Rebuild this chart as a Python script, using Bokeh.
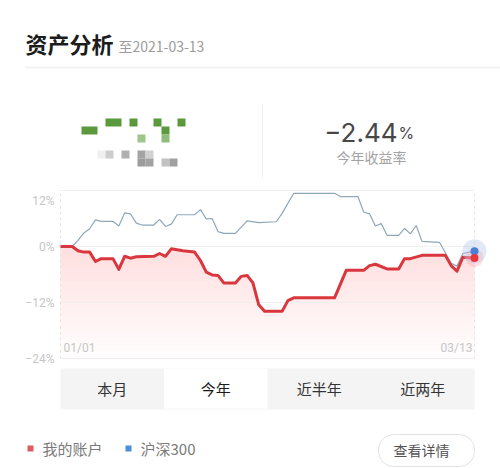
import numpy as np
from bokeh.plotting import figure
from bokeh.layouts import column
from bokeh.models import Range1d
from bokeh.core.properties import value
from bokeh.embed import file_html
from bokeh.resources import INLINE

# ---------------- data ----------------
title_text = "资产分析"
as_of_text = "至2021-03-13"
return_pct = -2.44
return_label = "今年收益率"

# day offsets from 2021-01-01 and cumulative return (%)
acct_days = [0, 2, 3, 4, 5, 6, 7, 9, 10, 11, 12, 13, 16, 17, 18, 19, 21, 23, 24, 25, 26, 27,
             28, 30, 31, 32, 33, 34, 35, 38, 39, 40, 47, 49, 52, 53, 54, 56, 58, 59, 60, 62,
             66, 67, 68, 69, 71]
acct_vals = [0, 0, -0.9, -1.2, -1.2, -3.2, -2.6, -2.6, -4.9, -2.1, -2.5, -2.2, -2.1, -1.5, -2.1,
             -0.5, -0.9, -1.2, -3.0, -5.5, -6.1, -6.2, -7.8, -7.8, -6.4, -6.2, -7.8, -12.5, -13.9,
             -13.9, -11.6, -11.0, -11.0, -5.1, -5.1, -4.1, -3.8, -4.8, -4.8, -2.6, -2.6, -1.9,
             -1.9, -4.1, -5.3, -2.3, -2.44]

hs_days = [0, 2, 3, 4, 5, 6, 7, 9, 10, 11, 12, 13, 14, 16, 17, 18, 19, 20, 23, 24, 25, 26, 27,
           28, 30, 32, 34, 37, 38, 40, 47, 48, 51, 52, 53, 54, 55, 56, 58, 59, 60, 61, 62, 65,
           67, 68, 69, 71]
hs_vals = [0, 0, 1.3, 2.9, 3.8, 5.7, 5.4, 5.4, 4.4, 7.2, 7.0, 5.0, 4.6, 4.6, 5.8, 4.3, 4.8, 6.8,
           6.8, 7.9, 5.9, 6.0, 3.2, 2.8, 2.8, 5.5, 5.1, 5.3, 7.1, 11.4, 11.4, 10.7, 10.7, 7.4, 7.0,
           4.4, 4.9, 2.4, 2.4, 3.9, 2.7, 4.5, 1.1, 0.9, -3.6, -4.2, -1.5, -1.0]

y_ticks = [-24, -12, 0, 12]
y_tick_labels = ["−24%", "−12%", "0%", "12%"]
x_tick_labels = ["01/01", "03/13"]
tab_labels = ["本月", "今年", "近半年", "近两年"]
selected_tab = 1
legend_labels = ["我的账户", "沪深300"]
button_text = "查看详情"

# privacy mosaic cells (x, y, w, colour)
mosaic_x = [81, 105, 129, 153, 177, 161, 161, 137, 97, 105, 121, 137, 145, 137, 145, 161, 169]
mosaic_y = [126, 118, 118, 118, 118, 126, 134, 134, 150, 150, 150, 150, 150, 158, 158, 158, 158]
mosaic_w = [16, 16, 8, 8, 8, 8, 8, 8, 8, 8, 8, 8, 8, 8, 8, 8, 8]
mosaic_c = ["#5b9a3c", "#5b9a3c", "#5b9a3c", "#5b9a3c", "#5b9a3c", "#5b9a3c", "#8dbd78",
            "#9cc68a", "#f0f0f0", "#cdcdcd", "#b0b0b0", "#a3a3a3", "#d0d0d0", "#9c9c9c",
            "#a2a2a2", "#c2c2c2", "#a0a0a0"]

CJK = value("Noto Sans CJK SC")
RED = "#d9373d"
BLUE_LINE = "#8fa8b9"
BLUE_DOT = "#4a80d6"
W = 500


def blank(h, x_rng, y_rng):
    f = figure(width=W, height=h, x_range=x_rng, y_range=y_rng, output_backend="svg",
               toolbar_location=None, min_border=0, min_border_left=0, min_border_right=0,
               min_border_top=0, min_border_bottom=0, outline_line_color=None,
               x_axis_location=None, y_axis_location=None)
    f.grid.visible = False
    return f


# ---------------- header ----------------
pa = blank(180, Range1d(0, 500), Range1d(180, 0))
pa.text(x=[25], y=[42], text=[title_text], text_font=CJK, text_font_size="22px",
        text_font_style="bold", text_color="#1c1c1c", text_baseline="middle")
pa.text(x=[118], y=[45], text=[as_of_text], text_font=CJK, text_font_size="14px",
        text_color="#9c9c9c", text_baseline="middle")
pa.segment(x0=[25], y0=[67], x1=[500], y1=[67], line_color="#f0f0f0", line_width=1.5)
pa.quad(left=mosaic_x, right=[a + b for a, b in zip(mosaic_x, mosaic_w)], top=mosaic_y,
        bottom=[v + 8 for v in mosaic_y], fill_color=mosaic_c, line_color=None)
pa.segment(x0=[262], y0=[103], x1=[262], y1=[178], line_color="#efefef", line_width=1)
ret_txt = f"{return_pct:.2f}".replace("-", "−")
pa.text(x=[397], y=[132], text=[ret_txt], text_font=value("Inter"), text_font_size="26px",
        text_color="#474747", text_align="right", text_baseline="alphabetic")
pa.text(x=[398], y=[132], text=["%"], text_font=value("Inter"), text_font_size="16px",
        text_color="#474747", text_align="left", text_baseline="alphabetic")
pa.text(x=[371], y=[156.5], text=[return_label], text_font=CJK, text_font_size="14px",
        text_color="#a3a3a3", text_align="center", text_baseline="middle")

# ---------------- chart ----------------
# chart area: screen x 60..474, y 190..358 inside a 500x188 panel (top at 180)
ppd = (474 - 60) / (acct_days[-1] - acct_days[0])        # px per day
ppp = (358 - 190) / (y_ticks[-1] - y_ticks[0])           # px per percent
xr = Range1d(acct_days[0] - 60 / ppd, acct_days[-1] + (500 - 474) / ppd)
yr = Range1d(y_ticks[0] - 10 / ppp, y_ticks[-1] + 10 / ppp)
pb = blank(188, xr, yr)

# gradient-like fill under the account line
ad = np.array(acct_days, dtype=float)
av = np.array(acct_vals, dtype=float)
for lvl in np.arange(y_ticks[0], y_ticks[-1], 1.5):
    pb.varea(x=ad, y1=np.minimum(av, lvl), y2=av, fill_color="#e6323a", fill_alpha=0.011)

# horizontal grid lines and dashed boundaries
pb.segment(x0=[acct_days[0]] * len(y_ticks), x1=[acct_days[-1]] * len(y_ticks),
           y0=y_ticks, y1=y_ticks, line_color="#efefef", line_width=1)
pb.segment(x0=[acct_days[0], acct_days[-1]], x1=[acct_days[0], acct_days[-1]],
           y0=[y_ticks[0]] * 2, y1=[y_ticks[-1]] * 2, line_color="#e4e4e4",
           line_dash="3 3", line_width=1)

# y tick labels (top one sits just inside the chart, as in the source)
pb.text(x=[acct_days[0]] * len(y_ticks), y=y_ticks, text=y_tick_labels, x_offset=-6,
        y_offset=[0, 0, 0, 10], text_align="right", text_baseline="middle",
        text_font=value("Roboto"), text_font_size="12px", text_color="#c6c6c6")

pb.line(hs_days, hs_vals, line_color=BLUE_LINE, line_width=1.2)
pb.line(acct_days, acct_vals, line_color=RED, line_width=3, line_join="round")

pb.scatter([hs_days[-1]], [hs_vals[-1]], size=24, fill_color="#a9c0ee", fill_alpha=0.35, line_color=None)
pb.scatter([acct_days[-1]], [acct_vals[-1]], size=18, fill_color="#f3a0a6", fill_alpha=0.3, line_color=None)
pb.scatter([hs_days[-1]], [hs_vals[-1]], size=8, fill_color=BLUE_DOT, line_color=None)
pb.scatter([acct_days[-1]], [acct_vals[-1]], size=8, fill_color="#e5393f", line_color=None)

pb.text(x=[acct_days[0], acct_days[-1]], y=[y_ticks[0]] * 2, text=x_tick_labels,
        text_align=["left", "right"], x_offset=[3, -2], y_offset=-4, text_baseline="bottom",
        text_font=value("Roboto"), text_font_size="12px", text_color="#c6c6c6")

# ---------------- tabs & legend ----------------
pc = blank(100, Range1d(0, 500), Range1d(468, 368))
tab_l, tab_r = 60, 474
tw = (tab_r - tab_l) / len(tab_labels)
lefts = [tab_l + i * tw for i in range(len(tab_labels))]
pc.quad(left=[tab_l], right=[tab_r], top=[367], bottom=[409], fill_color="#f4f4f4", line_color=None)
pc.quad(left=[lefts[selected_tab]], right=[lefts[selected_tab] + tw], top=[367], bottom=[408],
        fill_color="white", line_color=None)
pc.text(x=[l + tw / 2 for l in lefts], y=[388] * len(tab_labels), text=tab_labels,
        text_font=CJK, text_font_size="15px",
        text_color=["#1a1a1a" if i == selected_tab else "#333333" for i in range(len(tab_labels))],
        text_align="center", text_baseline="middle")

pc.scatter([30, 128], [448, 448], marker="square", size=6, fill_color=["#e05a5e", "#4a8fdb"],
           line_color=None)
pc.text(x=[42, 140], y=[448, 448], text=legend_labels, text_font=CJK, text_font_size="15px",
        text_color="#7a7a7a", text_baseline="middle")

pc.quad(left=[378], right=[474], top=[434], bottom=[466], border_radius=15,
        fill_color=None, line_color="#e2e2e2", line_width=1)
pc.text(x=[421], y=[449], text=[button_text], text_font=CJK, text_font_size="14px",
        text_color="#555555", text_align="center", text_baseline="middle")

layout = column(pa, pb, pc, spacing=0)
open("out.html", "w").write(file_html(layout, INLINE))
